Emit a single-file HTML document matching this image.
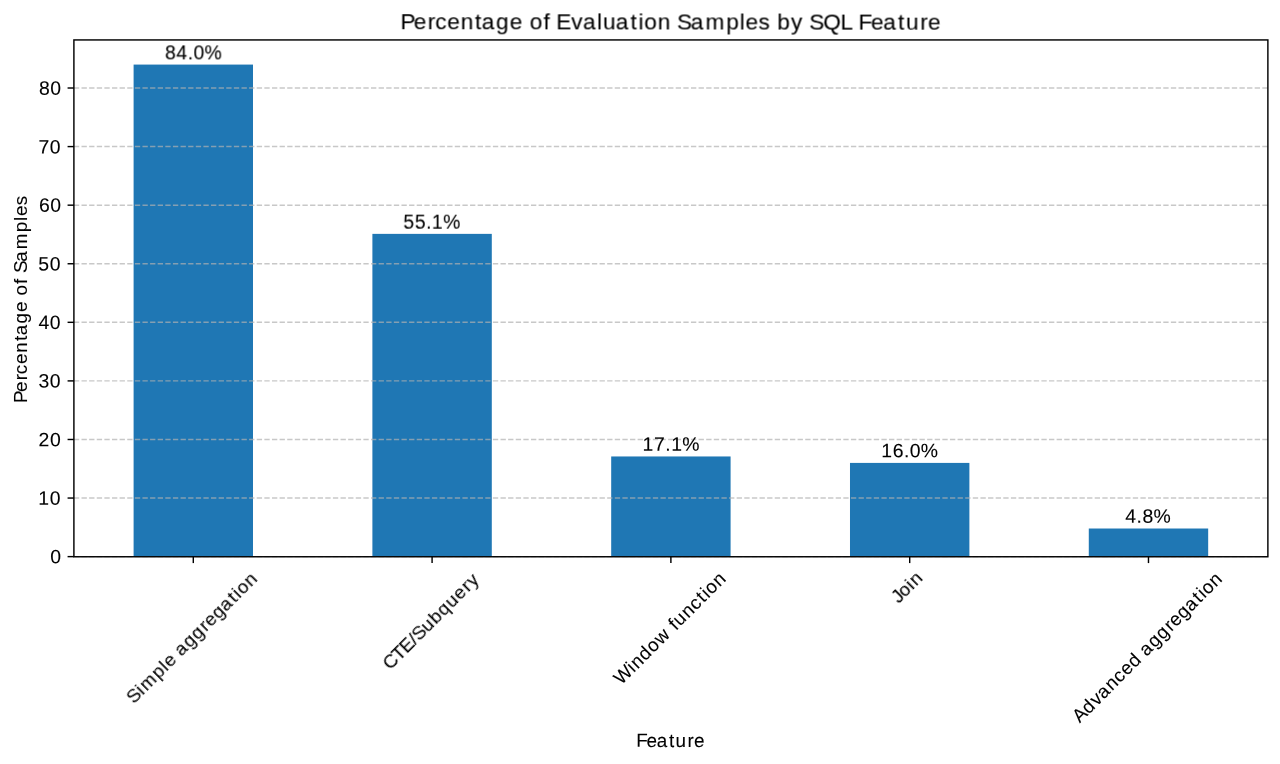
<!DOCTYPE html>
<html><head><meta charset="utf-8"><title>Percentage of Evaluation Samples by SQL Feature</title>
<style>html,body{margin:0;padding:0;background:#fff;}body{width:1280px;height:764px;overflow:hidden;}svg{display:block;}text{font-family:"Liberation Sans",sans-serif;fill:#000;}</style></head><body>
<svg width="1280" height="764" viewBox="0 0 1280 764">
<rect x="0" y="0" width="1280" height="764" fill="#ffffff"/>
<rect x="133.60" y="64.58" width="119.40" height="492.18" fill="#1f77b4"/>
<rect x="372.39" y="233.87" width="119.40" height="322.89" fill="#1f77b4"/>
<rect x="611.19" y="456.46" width="119.40" height="100.30" fill="#1f77b4"/>
<rect x="849.99" y="462.91" width="119.40" height="93.85" fill="#1f77b4"/>
<rect x="1088.78" y="528.51" width="119.40" height="28.25" fill="#1f77b4"/>
<line x1="73.90" y1="556.63" x2="1267.88" y2="556.63" stroke="#b0b0b0" stroke-opacity="0.7" stroke-width="1.437" stroke-dasharray="5.318 2.300"/>
<line x1="73.90" y1="498.05" x2="1267.88" y2="498.05" stroke="#b0b0b0" stroke-opacity="0.7" stroke-width="1.437" stroke-dasharray="5.318 2.300"/>
<line x1="73.90" y1="439.48" x2="1267.88" y2="439.48" stroke="#b0b0b0" stroke-opacity="0.7" stroke-width="1.437" stroke-dasharray="5.318 2.300"/>
<line x1="73.90" y1="380.90" x2="1267.88" y2="380.90" stroke="#b0b0b0" stroke-opacity="0.7" stroke-width="1.437" stroke-dasharray="5.318 2.300"/>
<line x1="73.90" y1="322.32" x2="1267.88" y2="322.32" stroke="#b0b0b0" stroke-opacity="0.7" stroke-width="1.437" stroke-dasharray="5.318 2.300"/>
<line x1="73.90" y1="263.75" x2="1267.88" y2="263.75" stroke="#b0b0b0" stroke-opacity="0.7" stroke-width="1.437" stroke-dasharray="5.318 2.300"/>
<line x1="73.90" y1="205.17" x2="1267.88" y2="205.17" stroke="#b0b0b0" stroke-opacity="0.7" stroke-width="1.437" stroke-dasharray="5.318 2.300"/>
<line x1="73.90" y1="146.59" x2="1267.88" y2="146.59" stroke="#b0b0b0" stroke-opacity="0.7" stroke-width="1.437" stroke-dasharray="5.318 2.300"/>
<line x1="73.90" y1="88.01" x2="1267.88" y2="88.01" stroke="#b0b0b0" stroke-opacity="0.7" stroke-width="1.437" stroke-dasharray="5.318 2.300"/>
<rect x="73.90" y="39.94" width="1193.98" height="516.82" fill="none" stroke="#000" stroke-width="1.437"/>
<line x1="67.57" y1="556.63" x2="73.90" y2="556.63" stroke="#000" stroke-width="1.437"/>
<line x1="67.57" y1="498.05" x2="73.90" y2="498.05" stroke="#000" stroke-width="1.437"/>
<line x1="67.57" y1="439.48" x2="73.90" y2="439.48" stroke="#000" stroke-width="1.437"/>
<line x1="67.57" y1="380.90" x2="73.90" y2="380.90" stroke="#000" stroke-width="1.437"/>
<line x1="67.57" y1="322.32" x2="73.90" y2="322.32" stroke="#000" stroke-width="1.437"/>
<line x1="67.57" y1="263.75" x2="73.90" y2="263.75" stroke="#000" stroke-width="1.437"/>
<line x1="67.57" y1="205.17" x2="73.90" y2="205.17" stroke="#000" stroke-width="1.437"/>
<line x1="67.57" y1="146.59" x2="73.90" y2="146.59" stroke="#000" stroke-width="1.437"/>
<line x1="67.57" y1="88.01" x2="73.90" y2="88.01" stroke="#000" stroke-width="1.437"/>
<line x1="193.30" y1="556.76" x2="193.30" y2="563.09" stroke="#000" stroke-width="1.437"/>
<line x1="432.09" y1="556.76" x2="432.09" y2="563.09" stroke="#000" stroke-width="1.437"/>
<line x1="670.89" y1="556.76" x2="670.89" y2="563.09" stroke="#000" stroke-width="1.437"/>
<line x1="909.69" y1="556.76" x2="909.69" y2="563.09" stroke="#000" stroke-width="1.437"/>
<line x1="1148.48" y1="556.76" x2="1148.48" y2="563.09" stroke="#000" stroke-width="1.437"/>
<g opacity="0.999" stroke="#000" stroke-width="0.1">
<text x="-9.92" y="0" font-size="19.40" transform="translate(60.28,563.25) rotate(0.05)">0</text>
<text x="-21.46 -9.92" y="0" font-size="19.40" transform="translate(59.78,504.67) rotate(0.05)">10</text>
<text x="-21.59 -9.92" y="0" font-size="19.40" transform="translate(60.03,446.35) rotate(0.05)">20</text>
<text x="-21.33 -9.92" y="0" font-size="19.40" transform="translate(59.78,387.52) rotate(0.05)">30</text>
<text x="-21.35 -9.92" y="0" font-size="19.40" transform="translate(59.78,328.94) rotate(0.05)">40</text>
<text x="-21.42 -9.92" y="0" font-size="19.40" transform="translate(59.78,270.62) rotate(0.05)">50</text>
<text x="-21.35 -9.92" y="0" font-size="19.40" transform="translate(60.28,211.79) rotate(0.05)">60</text>
<text x="-21.39 -9.92" y="0" font-size="19.40" transform="translate(59.78,153.46) rotate(0.05)">70</text>
<text x="-21.35 -9.92" y="0" font-size="19.40" transform="translate(60.28,94.88) rotate(0.05)">80</text>
<text x="-28.33 -16.90 -5.64 0.24 11.26" y="0" font-size="19.40" transform="translate(193.30,59.40) rotate(0.05)">84.0%</text>
<text x="-28.49 -17.06 -5.72 0.05 11.18" y="0" font-size="19.40" transform="translate(431.84,228.69) rotate(0.05)">55.1%</text>
<text x="-28.82 -17.32 -6.02 -0.24 10.88" y="0" font-size="19.40" transform="translate(671.39,450.78) rotate(0.05)">17.1%</text>
<text x="-28.82 -17.28 -6.02 -0.14 10.88" y="0" font-size="19.40" transform="translate(909.94,457.22) rotate(0.05)">16.0%</text>
<text x="-22.45 -11.18 -5.31 5.72" y="0" font-size="19.40" transform="translate(1147.73,522.83) rotate(0.05)">4.8%</text>
<text x="-270.94 -257.65 -243.69 -236.37 -224.15 -210.69 -196.58 -189.65 -175.52 -161.88 -148.71 -141.83 -128.02 -121.08 -115.32 -100.17 -88.63 -74.44 -68.44 -55.76 -41.03 -33.11 -27.30 -13.84 -0.47 5.51 19.28 34.12 54.68 68.16 74.05 87.04 98.45 105.70 119.42 131.74 137.72 151.68 169.12 181.26 187.07 199.43 211.81 226.54 234.46 248.71 256.39" y="0" font-size="22.64" transform="translate(671.50,29.45) rotate(0.05)">Percentage of Evaluation Samples by SQL Feature</text>
<text x="-34.97 -24.68 -14.36 -2.08 4.52 16.40 22.80" y="0" font-size="18.86" transform="translate(671.10,746.90) rotate(0.05)">Feature</text>
<text x="-104.27 -93.20 -81.56 -75.47 -65.28 -54.06 -42.31 -36.53 -24.76 -13.39 -2.42 3.31 14.82 20.61 25.59 37.07 49.44 66.57 77.81 82.71 93.54" y="0.00" font-size="18.86" transform="translate(27.05,298.70) rotate(-90)">Percentage of Samples</text>
<text x="-88.19 -75.88 -70.36 -53.23 -42.00 -37.09 -26.12 -21.06 -9.28 2.12 14.07 20.48 31.56 42.20 54.48 61.08 65.91 77.14" y="4.96" font-size="18.86" transform="translate(192.80,638.55) rotate(-45)">Simple aggregation</text>
<text x="-64.37 -51.45 -40.88 -28.45 -23.30 -10.99 0.56 11.73 23.20 34.50 46.13 53.22" y="4.96" font-size="18.86" transform="translate(432.09,621.67) rotate(-45)">CTE/Subquery</text>
<text x="-74.52 -56.73 -51.66 -40.41 -29.10 -17.84 -3.44 2.81 8.77 20.24 31.15 41.87 48.47 53.30 64.53" y="4.96" font-size="18.86" transform="translate(670.39,629.42) rotate(-45)">Window function</text>
<text x="-17.97 -9.55 1.59 6.66" y="4.96" font-size="18.86" transform="translate(907.94,587.82) rotate(-45)">Join</text>
<text x="-101.02 -88.55 -76.89 -67.28 -55.37 -44.46 -34.27 -23.19 -11.90 -6.84 4.94 16.34 28.30 34.70 45.78 56.42 68.70 75.30 80.14 91.36" y="4.96" font-size="18.86" transform="translate(1147.73,648.60) rotate(-45)">Advanced aggregation</text>
</g>
</svg></body></html>
